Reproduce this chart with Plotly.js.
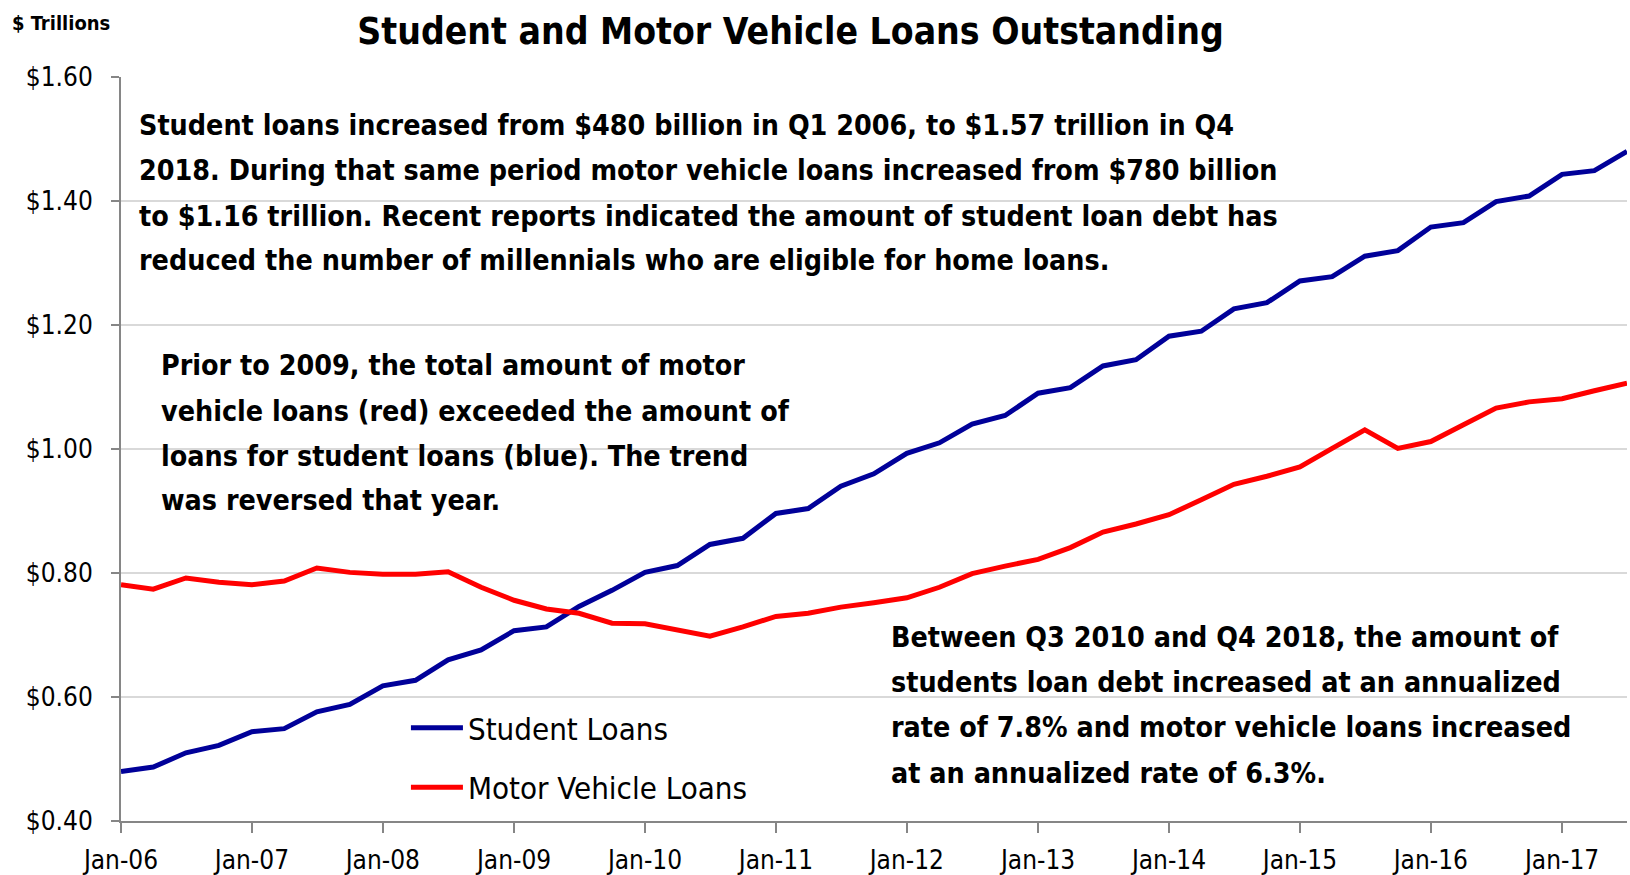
<!DOCTYPE html>
<html>
<head>
<meta charset="utf-8">
<script src="https://cdn.plot.ly/plotly-3.0.1.min.js"></script>
<style>html,body{margin:0;padding:0;background:#fff;}#chart{width:1630px;height:875px;}</style>
</head>
<body>
<div id="chart"></div>
<script>
// Quarterly dates, Q1 2006 .. Q3 2017
const quarters = [
  "2006-01-01","2006-04-01","2006-07-01","2006-10-01",
  "2007-01-01","2007-04-01","2007-07-01","2007-10-01",
  "2008-01-01","2008-04-01","2008-07-01","2008-10-01",
  "2009-01-01","2009-04-01","2009-07-01","2009-10-01",
  "2010-01-01","2010-04-01","2010-07-01","2010-10-01",
  "2011-01-01","2011-04-01","2011-07-01","2011-10-01",
  "2012-01-01","2012-04-01","2012-07-01","2012-10-01",
  "2013-01-01","2013-04-01","2013-07-01","2013-10-01",
  "2014-01-01","2014-04-01","2014-07-01","2014-10-01",
  "2015-01-01","2015-04-01","2015-07-01","2015-10-01",
  "2016-01-01","2016-04-01","2016-07-01","2016-10-01",
  "2017-01-01","2017-04-01","2017-07-01"
];
// $ trillions
const studentLoans = [
  0.480,0.487,0.510,0.522,
  0.544,0.549,0.576,0.588,
  0.618,0.627,0.660,0.676,
  0.707,0.713,0.746,0.772,
  0.801,0.812,0.846,0.856,
  0.896,0.904,0.940,0.960,
  0.993,1.010,1.040,1.054,
  1.090,1.099,1.134,1.144,
  1.182,1.190,1.226,1.236,
  1.271,1.278,1.311,1.320,
  1.358,1.365,1.399,1.408,
  1.443,1.449,1.480
];
const motorVehicleLoans = [
  0.781,0.774,0.792,0.785,
  0.781,0.787,0.808,0.801,
  0.798,0.798,0.802,0.777,
  0.756,0.742,0.735,0.719,
  0.718,0.709,0.698,0.713,
  0.730,0.735,0.745,0.752,
  0.760,0.777,0.799,0.811,
  0.822,0.841,0.866,0.879,
  0.894,0.918,0.943,0.956,
  0.971,1.001,1.031,1.001,
  1.012,1.039,1.066,1.076,
  1.081,1.094,1.106
];
const seriesNames = ["Student Loans", "Motor Vehicle Loans"];
const chartTitle = "Student and Motor Vehicle Loans Outstanding";
const unitLabel = "$ Trillions";
const note1Lines = [
  "Student loans increased from $480 billion in Q1 2006, to $1.57 trillion in Q4",
  "2018. During that same period motor vehicle loans increased from $780 billion",
  "to $1.16 trillion. Recent reports indicated the amount of student loan debt has",
  "reduced the number of millennials who are eligible for home loans."
];
const note2Lines = [
  "Prior to 2009, the total amount of motor",
  "vehicle loans (red) exceeded the amount of",
  "loans for student loans (blue). The trend",
  "was reversed that year."
];
const note3Lines = [
  "Between Q3 2010 and Q4 2018, the amount of",
  "students loan debt increased at an annualized",
  "rate of 7.8% and motor vehicle loans increased",
  "at an annualized rate of 6.3%."
];

const FONT = "'Liberation Sans Narrow', 'Arial Narrow', 'DejaVu Sans Condensed', sans-serif";

const traces = [
  {x: quarters, y: studentLoans, name: seriesNames[0], type: "scatter", mode: "lines",
   line: {color: "#000099", width: 5}, legendgroup: "a"},
  {x: quarters, y: motorVehicleLoans, name: seriesNames[1], type: "scatter", mode: "lines",
   line: {color: "#ff0000", width: 5}, legendgroup: "b"}
];

// note blocks: left x (paper) and line centres (paper y)
const noteBlocks = [
  {lines: note1Lines, x: 0.0103, ys: [0.9343, 0.8743, 0.8128, 0.7528]},
  {lines: note2Lines, x: 0.0255, ys: [0.6117, 0.5503, 0.4902, 0.4302]},
  {lines: note3Lines, x: 0.5100, ys: [0.2472, 0.1857, 0.1256, 0.0642]}
];
const annotations = [
  {text: "<b>" + unitLabel + "</b>", xref: "paper", yref: "paper", x: -0.0735, y: 1.0726,
   xanchor: "left", yanchor: "middle", showarrow: false, font: {family: FONT, size: 20}}
];
noteBlocks.forEach(b => b.lines.forEach((t, i) => annotations.push({
  text: "<b>" + t + "</b>", xref: "paper", yref: "paper", x: b.x, y: b.ys[i],
  xanchor: "left", yanchor: "middle", align: "left", showarrow: false,
  font: {family: FONT, size: 28.4}
})));

const layout = {
  width: 1630, height: 875,
  margin: {l: 121, r: 3, t: 77, b: 54},
  paper_bgcolor: "#ffffff", plot_bgcolor: "#ffffff",
  font: {family: FONT, color: "#000000"},
  title: {text: "<b>" + chartTitle + "</b>", font: {family: FONT, size: 37, color: "#000"},
          x: 0.485, xanchor: "center", y: 0.965, yanchor: "middle"},
  xaxis: {
    type: "date", range: ["2006-01-01", "2017-07-01"],
    tick0: "2006-01-01", dtick: "M12", tickformat: "%b-%y",
    showgrid: false, showline: true, linecolor: "#868686", linewidth: 2,
    ticks: "outside", ticklen: 10, tickcolor: "#868686", tickwidth: 1.5,
    ticklabelstandoff: 5,
    tickfont: {family: FONT, size: 26, color: "#000"}, zeroline: false, fixedrange: true
  },
  yaxis: {
    range: [0.4, 1.6], dtick: 0.2, tickformat: ".2f", tickprefix: "$",
    showgrid: true, gridcolor: "#d9d9d9", gridwidth: 2,
    showline: true, linecolor: "#868686", linewidth: 2,
    ticks: "outside", ticklen: 8, tickcolor: "#868686", tickwidth: 1.5,
    ticklabelstandoff: 13,
    tickfont: {family: FONT, size: 26, color: "#000"}, zeroline: false, fixedrange: true
  },
  showlegend: true,
  legend: {
    x: 0.1892, xanchor: "left", y: 0.161, yanchor: "top",
    bgcolor: "rgba(0,0,0,0)", font: {family: FONT, size: 31, color: "#000"},
    traceorder: "grouped", tracegroupgap: 16, itemwidth: 52
  },
  annotations: annotations
};

Plotly.newPlot("chart", traces, layout, {displayModeBar: false, staticPlot: true});
</script>
</body>
</html>
